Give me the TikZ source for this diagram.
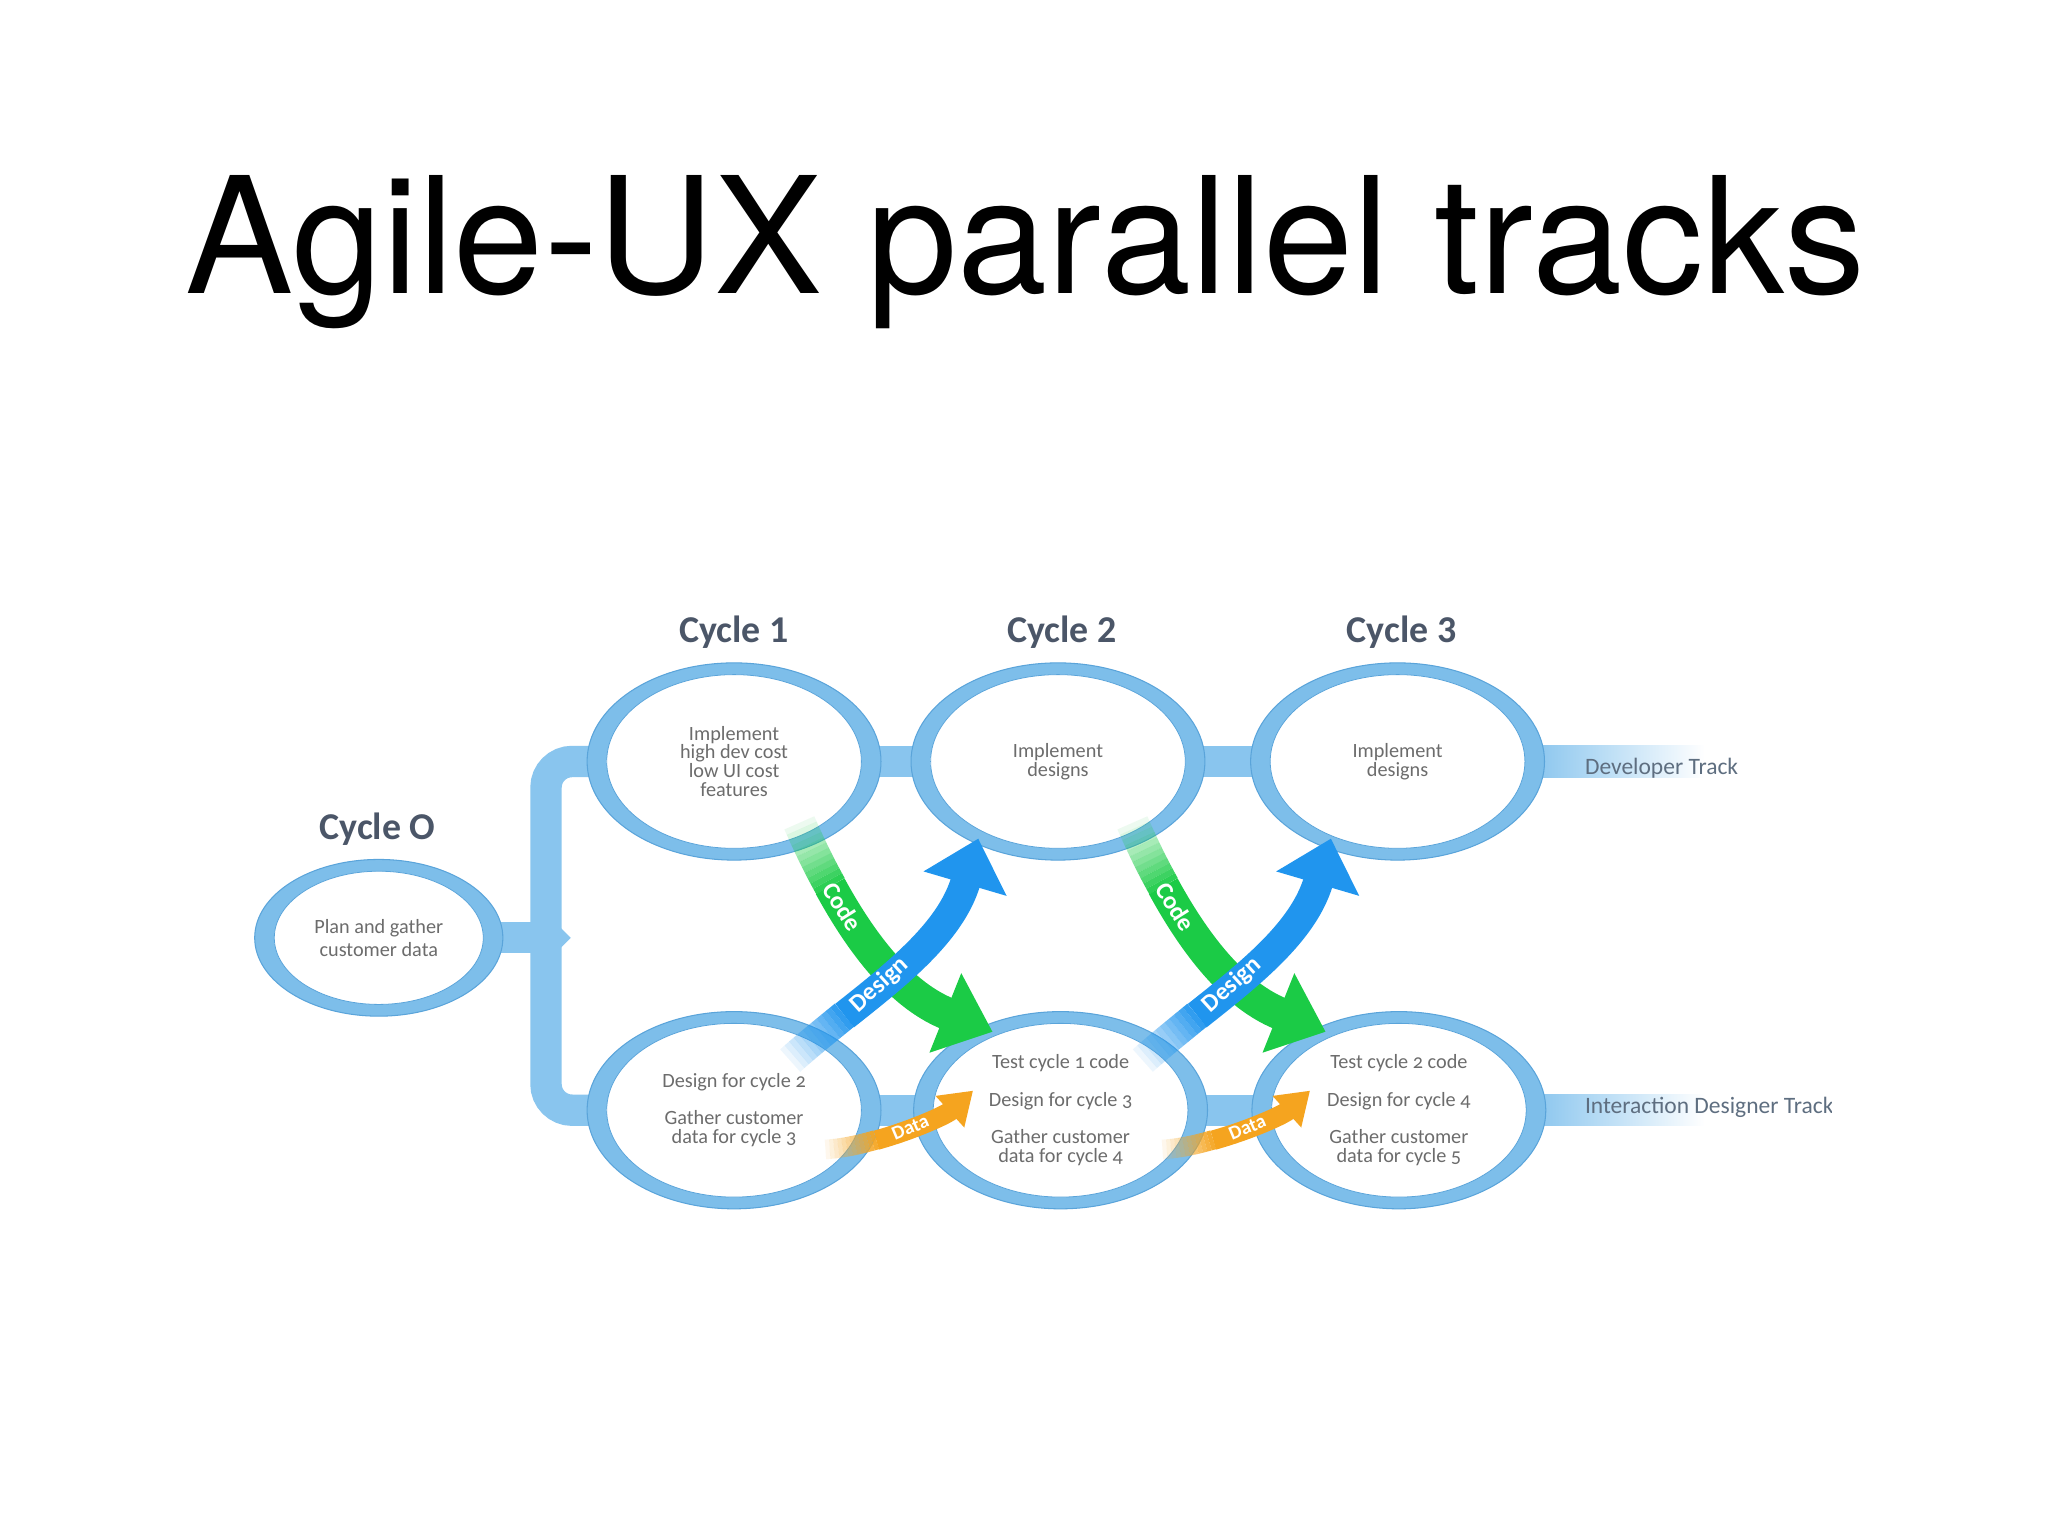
\documentclass[tikz,border=0pt]{standalone}
\usepackage{fontspec}
\setmainfont{TeX Gyre Heros}
\newfontfamily\bubblefont[Numbers=OldStyle]{Carlito}
\newfontfamily\labelfont{Carlito}
\usetikzlibrary{arrows.meta,shapes.geometric,backgrounds,calc}
\definecolor{ring}{HTML}{7DBEEA}
\definecolor{ringedge}{HTML}{5AA4DA}
\definecolor{trk}{HTML}{89C5EE}
\definecolor{bubblein}{HTML}{D2E8F7}
\definecolor{bubbletext}{HTML}{6C6C6C}
\definecolor{cyclegray}{HTML}{4B5668}
\definecolor{tracktext}{HTML}{5E6E80}
\definecolor{codegreen}{HTML}{1BCB46}
\definecolor{designblue}{HTML}{2095EE}
\definecolor{dataorange}{HTML}{F5A41F}
\pgfdeclareradialshading{bubbleshade}{\pgfpoint{0bp}{12bp}}{color(0bp)=(white);
  color(30bp)=(white); color(50bp)=(bubblein)}
% The tail of an arrow is laid down in short dashes of rising opacity,
% so that it dissolves into the bubble it leaves; the rest follows solid.
\newcommand{\FadedArrow}[4]{%
  \foreach \k in {1,...,12}{%
    \pgfmathsetmacro\tailoff{(\k-1)*#2}%
    \pgfmathsetmacro\tailop{\k/13}%
    \draw[#1,-,opacity=\tailop,
      dash pattern=on 0pt off \tailoff pt on #2pt off 5000pt] #3;}%
  \pgfmathsetmacro\tailoff{12*#2}%
  \draw[#1,dash pattern=on 0pt off \tailoff pt on 5000pt] #3 #4;}

\begin{document}
\begin{tikzpicture}[x=1pt,y=-1pt,
 bubble/.style 2 args={ellipse,minimum width=#1,minimum height=#2,inner sep=0pt,
   fill=ring,draw=ringedge,line width=0.8pt,align=center,text=bubbletext,
   font=\bubblefont\fontsize{15.5}{14.5}\selectfont,
   path picture={\shadedraw[shading=bubbleshade,draw=ringedge,line width=0.6pt]
     (path picture bounding box.center) ellipse [x radius=#1/2-15pt,y radius=#2/2-9pt];}},
 cyclelabel/.style={text=cyclegray,font=\labelfont\bfseries\fontsize{29}{30}\selectfont},
 tracklabel/.style={anchor=west,text=tracktext,font=\bubblefont\fontsize{18}{20}\selectfont},
 track/.style={draw=trk,line width=24pt},
 codearrow/.style={draw=codegreen,line width=25pt,line cap=butt,
   -{Triangle[width=63pt,length=39pt]}},
 designarrow/.style={draw=designblue,line width=23pt,line cap=butt,
   -{Triangle[width=64pt,length=36pt]}},
 dataarrow/.style={draw=dataorange,line width=15pt,line cap=butt,
   -{Triangle[width=31pt,length=24pt]}},
 arrowlabel/.style={text=white,sloped,inner sep=0pt,
   font=\labelfont\bfseries\fontsize{19}{20}\selectfont}]

\useasboundingbox (0,0) rectangle (1568,1176);
\node[font=\fontsize{124}{130}\selectfont,anchor=base] (title) at (785,225)
  {Agile-UX parallel tracks};

\node[bubble={190pt}{120pt},font=\bubblefont\fontsize{15.5}{18}\selectfont]
  (c0) at (290,718) {Plan and gather\\customer data};
\node[bubble={225pt}{151pt}] (c1) at (562,583)
  {Implement\\high dev cost\\low UI cost\\features};
\node[bubble={225pt}{151pt}] (c2) at (810,583) {Implement\\designs};
\node[bubble={225pt}{151pt}] (c3) at (1070,583) {Implement\\designs};
\node[bubble={225pt}{151pt}] (b1) at (562,850)
  {Design for cycle 2\\[14pt]Gather customer\\data for cycle 3};
\node[bubble={225pt}{151pt}] (b2) at (812,850)
  {Test cycle 1 code\\[14pt]Design for cycle 3\\[14pt]Gather customer\\data for cycle 4};
\node[bubble={225pt}{151pt}] (b3) at (1071,850)
  {Test cycle 2 code\\[14pt]Design for cycle 4\\[14pt]Gather customer\\data for cycle 5};

\node[cyclelabel] (lab0) at (289,635) {Cycle O};
\node[cyclelabel] (lab1) at (562,484) {Cycle 1};
\node[cyclelabel] (lab2) at (813,484) {Cycle 2};
\node[cyclelabel] (lab3) at (1073,484) {Cycle 3};

\coordinate (fork) at (418,718);
\coordinate (devend) at (1305,583);
\coordinate (uxend) at (1305,850);

\begin{scope}[on background layer]
  \fill[white] (0,0) rectangle (1568,1176);
  \draw[track] (c1.center) -- (c2.center) -- (c3.center);
  \draw[track] (b1.center) -- (b2.center) -- (b3.center);
  \draw[track,rounded corners=20pt] (c1.center) -| (fork) |- (b1.center);
  \draw[track] (c0.center) -- (fork);
  \fill[trk] ([xshift=10pt,yshift=9pt]fork) -- ([xshift=19pt]fork)
    -- ([xshift=10pt,yshift=-9pt]fork) -- cycle;
  \shade[left color=trk,right color=white]
    ([xshift=-10pt,yshift=12pt]c3.east) rectangle ([yshift=-12pt]devend);
  \shade[left color=trk,right color=white]
    ([xshift=-10pt,yshift=12pt]b3.east) rectangle ([yshift=-12pt]uxend);
\end{scope}

\node[tracklabel] (devtrack) at (1210,588) {Developer Track};
\begin{scope}
  \clip (1200,820) rectangle (1402,880);
  \node[tracklabel] (uxtrack) at (1210,848) {Interaction Designer Track};
\end{scope}

\foreach \src/\dst/\sx/\ex/\i in {c1/b2/50/-52/1,c2/b3/57/-56/2}
  \FadedArrow{codearrow}{4.5}{($(\src)+(\sx,47)$) .. controls +(35,80) and +(-75,-30)
    .. ($(\dst)+(\ex,-60)$)}{node[arrowlabel,pos=.3] (code\i) {Code}};
\foreach \src/\dst/\sx/\ex/\i in {b1/c2/43/-61/1,b2/c3/63/-51/2}
  \FadedArrow{designarrow}{4.5}{($(\src)+(\sx,-38)$) .. controls +(50,-45) and +(-25,85)
    .. ($(\dst)+(\ex,59)$)}{node[arrowlabel,pos=.42] (design\i) {Design}};
\foreach \src/\dst/\sx/\ex/\i in {b1/b2/70/-67/1,b2/b3/78/-68/2}
  \FadedArrow{dataarrow}{3.3}{($(\src)+(\sx,30)$) .. controls +(38,-2) and +(-22,20)
    .. ($(\dst)+(\ex,-15)$)}{node[arrowlabel,pos=.52,
    font=\labelfont\bfseries\fontsize{15}{16}\selectfont] (data\i) {Data}};
\end{tikzpicture}
\end{document}
